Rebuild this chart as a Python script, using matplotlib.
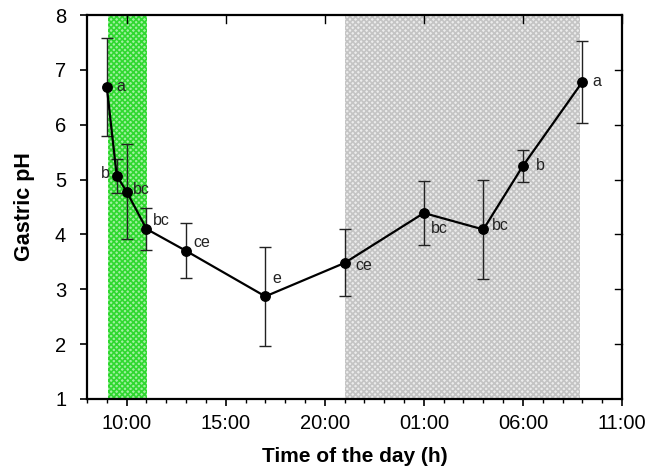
import matplotlib
matplotlib.use("Agg")
import matplotlib.pyplot as plt
from matplotlib.ticker import MultipleLocator, FixedLocator

plt.rcParams['font.family'] = ['Liberation Sans', 'DejaVu Sans']

# hours (continuous, next day = +24)
hours = [9.0, 9.5, 10.0, 11.0, 13.0, 17.0, 21.0, 25.0, 28.0, 30.0, 33.0]
ph = [6.69, 5.07, 4.78, 4.10, 3.70, 2.87, 3.48, 4.39, 4.09, 5.25, 6.78]
err = [0.89, 0.31, 0.87, 0.39, 0.50, 0.90, 0.61, 0.58, 0.91, 0.29, 0.75]
letters = ['a', 'b', 'bc', 'bc', 'ce', 'e', 'ce', 'bc', 'bc', 'b', 'a']
tick_pos = [10, 15, 20, 25, 30, 35]
tick_labels = ['10:00', '15:00', '20:00', '01:00', '06:00', '11:00']
green_band = (9.05, 11.05)
grey_band = (21.03, 32.9)

# label offsets in points (dx, dy) and alignment
offsets = [(7, 0, 'left'), (-5, 1.5, 'right'), (4.5, 1.5, 'left'), (5, 6, 'left'),
           (5, 6, 'left'), (5, 13, 'left'), (7.5, -1.5, 'left'), (5, -11, 'left'),
           (6.5, 3, 'left'), (9, 0.5, 'left'), (7, 0.5, 'left')]

fig = plt.figure(figsize=(6.58, 4.69), dpi=100)
ax = fig.add_axes([0.1322, 0.1493, 0.8131, 0.8187])

plt.rcParams['hatch.linewidth'] = 1.2
ax.axvspan(*green_band, facecolor='#a0f0a0', edgecolor='#30d830', hatch='xxxxxx', linewidth=0, zorder=0)
ax.axvspan(*grey_band, facecolor='#ececec', edgecolor='#c4c4c4', hatch='xxxxxx', linewidth=0, zorder=0)

ax.errorbar(hours, ph, yerr=err, fmt='none', ecolor='#222222', elinewidth=1.0, capsize=4.5, capthick=1.0, zorder=2)
ax.plot(hours, ph, '-o', color='black', lw=1.6, markersize=6.8, zorder=3)

for h, p, l, (dx, dy, ha) in zip(hours, ph, letters, offsets):
    ax.annotate(l, (h, p), xytext=(dx, dy), textcoords='offset points', ha=ha, va='center', fontsize=11.5, color='#222222')

ax.set_xlim(8, 35)
ax.set_ylim(1, 8)
ax.xaxis.set_major_locator(FixedLocator(tick_pos))
ax.set_xticklabels(tick_labels)
ax.xaxis.set_minor_locator(MultipleLocator(1))
ax.yaxis.set_major_locator(MultipleLocator(1))

ax.tick_params(axis='both', which='major', direction='out', length=5, width=1.2, labelsize=14.5, top=False, right=False)
ax.tick_params(axis='x', which='minor', direction='out', length=3, width=1.0, top=False)
ax.tick_params(axis='x', which='major', pad=6)
ax.tick_params(axis='y', which='major', pad=10)

# inward ticks on top and right
for t in tick_pos:
    ax.plot([t, t], [8, 8 - 0.15], color='black', lw=1.0, clip_on=False, zorder=4)
for y in range(2, 8):
    ax.plot([35 - 0.35, 35], [y, y], color='black', lw=1.0, clip_on=False, zorder=4)

for s in ax.spines.values():
    s.set_linewidth(1.6)

ax.set_xlabel('Time of the day (h)', fontsize=15, fontweight='bold', labelpad=10)
ax.set_ylabel('Gastric pH', fontsize=15.5, fontweight='bold', labelpad=14)

fig.savefig('out.png', dpi=100)
